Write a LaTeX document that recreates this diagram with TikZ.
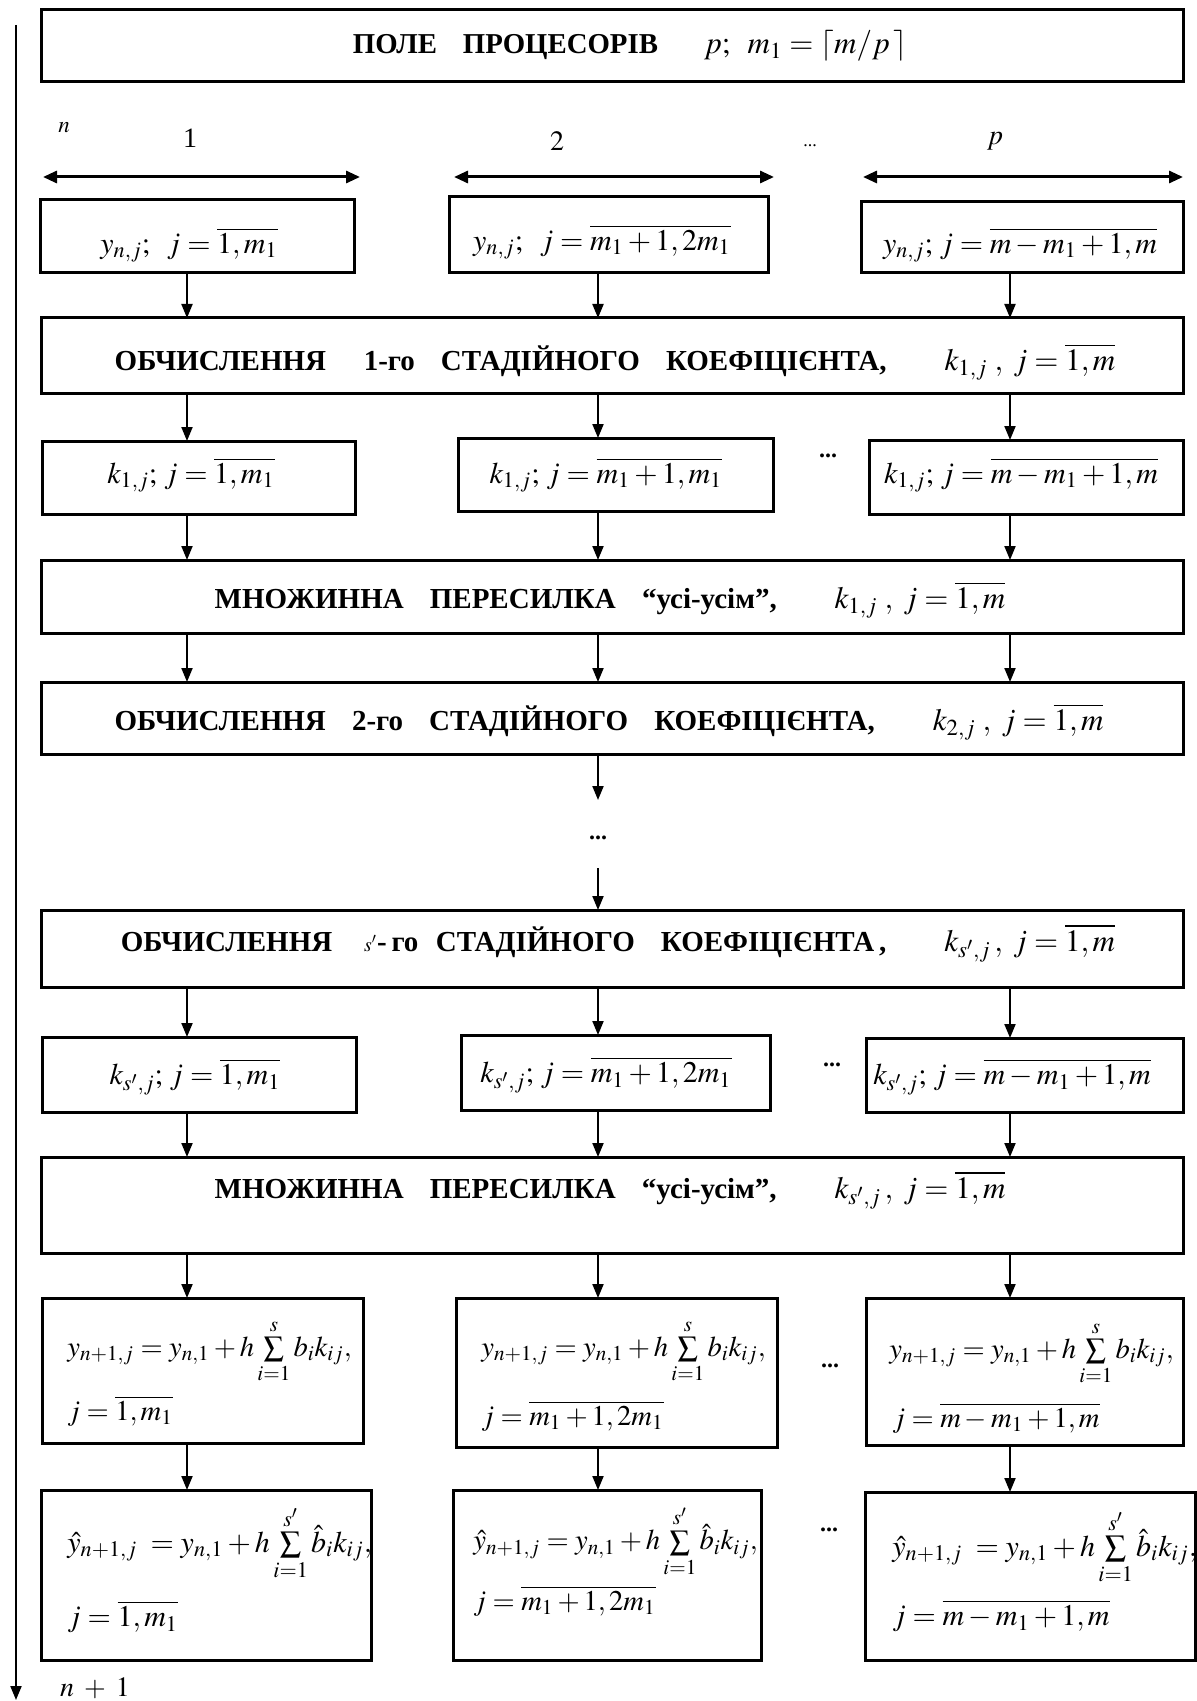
\documentclass[tikz,border=0pt]{standalone}
\usepackage{mathptmx}
\usepackage[no-math]{fontspec}
\setmainfont{Liberation Serif}
\usetikzlibrary{arrows.meta,fit}
\newcommand\mybox[5]{\node[bx, fit={(#2,#3) (#4,#5)}] (#1) {};}
\newcommand\hmath[1]{{\fontsize{15.5}{18}\selectfont$#1$}}
\begin{document}
\begin{tikzpicture}[x=0.5pt,y=-0.5pt,
  bx/.style={draw, line width=1.5pt, inner sep=0pt, outer sep=0pt},
  arr/.style={line width=1pt, -{Triangle[length=7pt,width=5.5pt]}},
  darr/.style={line width=1.5pt, {Triangle[length=7pt,width=6pt]}-{Triangle[length=7pt,width=6pt]}},
  hd/.style={inner sep=0pt, font=\fontsize{14.5}{17}\selectfont\bfseries},
  mt/.style={inner sep=0pt, font=\fontsize{15}{18}\selectfont},
  ml/.style={mt, anchor=west},
  nl/.style={inner sep=0pt, anchor=west, font=\fontsize{14.3}{17}\selectfont},
  lb/.style={inner sep=0pt, font=\fontsize{14}{16}\selectfont},
  dts/.style={inner sep=0pt, font=\fontsize{12}{14}\selectfont\bfseries}]
\useasboundingbox (0,0) rectangle (1197,1701);
\coordinate (c1) at (187,0);
\coordinate (c2) at (598,0);
\coordinate (c3) at (1010,0);
% left time axis
\coordinate (L0) at (16,25);
\coordinate (L1) at (16,1700);
\draw[arr] (L0) -- (L1);
\node[lb] (nlab) at (64,128) {\fontsize{11.5}{13}\selectfont$n$};
\node[lb] (n1lab) at (95,1688) {$n\;+\;1$};
% title
\mybox{T}{41}{10}{1183}{82}
\node[inner sep=0pt, font=\fontsize{14.4}{17}\selectfont] (Tt) at (630,46)
  {\textbf{ПОЛЕ\hspace{0.9em}ПРОЦЕСОРІВ}\hspace{1.6em}{\fontsize{15.5}{18}\selectfont$p;\;\; m_1=\lceil m/p\,\rceil$}};
% processor labels
\node[lb] (p1) at (190,138) {1};
\node[lb] (p2) at (557,141) {$2$};
\node[inner sep=0pt, font=\fontsize{9}{10}\selectfont] (pd) at (810,146) {...};
\node[lb] (pp) at (995,141) {$p$};
\coordinate (a1l) at (43,177); \coordinate (a1r) at (360,177);
\coordinate (a2l) at (454,177); \coordinate (a2r) at (774,177);
\coordinate (a3l) at (863,177); \coordinate (a3r) at (1183,177);
\draw[darr] (a1l) -- (a1r);
\draw[darr] (a2l) -- (a2r);
\draw[darr] (a3l) -- (a3r);
% row y_{n,j}
\mybox{Y1}{40}{200}{354}{273}
\mybox{Y2}{449}{197}{768}{273}
\mybox{Y3}{861}{202}{1183}{273}
\node[mt] (Y1t) at (189,245) {$y_{n,j};\;\; j=\overline{1,m_1}$};
\node[mt] (Y2t) at (602,242) {$y_{n,j};\;\; j=\overline{m_1+1,2m_1}$};
\node[mt] (Y3t) at (1020,245) {$y_{n,j};\, j=\overline{m-m_1+1,m}$};
% stage 1
\mybox{O1}{41}{318}{1183}{393}
\node[hd] (O1t) at (615,362) {ОБЧИСЛЕННЯ\hspace{1.3em}1-го\hspace{0.9em}СТАДІЙНОГО\hspace{0.9em}КОЕФІЦІЄНТА,\hspace{2em}\hmath{k_{1,j}\;,\; j=\overline{1,m}}};
\draw[arr] (Y1.south -| c1) -- (O1.north -| c1);
\draw[arr] (Y2.south -| c2) -- (O1.north -| c2);
\draw[arr] (Y3.south -| c3) -- (O1.north -| c3);
% row k_{1,j}
\mybox{K1}{42}{441}{355}{514}
\mybox{K2}{458}{438}{773}{511}
\mybox{K3}{869}{440}{1183}{514}
\node[mt] (K1t) at (191,475) {$k_{1,j};\, j=\overline{1,m_1}$};
\node[mt] (K2t) at (606,475) {$k_{1,j};\, j=\overline{m_1+1,m_1}$};
\node[mt] (K3t) at (1021,475) {$k_{1,j};\, j=\overline{m-m_1+1,m}$};
\node[dts] (Kd) at (828,456) {...};
\draw[arr] (O1.south -| c1) -- (K1.north -| c1);
\draw[arr] (O1.south -| c2) -- (K2.north -| c2);
\draw[arr] (O1.south -| c3) -- (K3.north -| c3);
% broadcast 1
\mybox{M1}{41}{560}{1183}{633}
\node[hd] (M1t) at (610,600) {МНОЖИННА\hspace{0.9em}ПЕРЕСИЛКА\hspace{0.9em}“усі-усім”,\hspace{2em}\hmath{k_{1,j}\;,\; j=\overline{1,m}}};
\draw[arr] (K1.south -| c1) -- (M1.north -| c1);
\draw[arr] (K2.south -| c2) -- (M1.north -| c2);
\draw[arr] (K3.south -| c3) -- (M1.north -| c3);
% stage 2
\mybox{O2}{41}{682}{1183}{754}
\node[hd] (O2t) at (609,722) {ОБЧИСЛЕННЯ\hspace{0.9em}2-го\hspace{0.9em}СТАДІЙНОГО\hspace{0.9em}КОЕФІЦІЄНТА,\hspace{2em}\hmath{k_{2,j}\;,\; j=\overline{1,m}}};
\draw[arr] (M1.south -| c1) -- (O2.north -| c1);
\draw[arr] (M1.south -| c2) -- (O2.north -| c2);
\draw[arr] (M1.south -| c3) -- (O2.north -| c3);
% ellipsis
\coordinate (e1) at (598,800);
\coordinate (e2) at (598,868);
\node[dts] (Ed) at (598,838) {...};
\draw[arr] (O2.south -| c2) -- (e1);
% stage s'
\mybox{Os}{41}{910}{1183}{987}
\draw[arr] (e2) -- (Os.north -| c2);
\node[hd] (Ost) at (618,943) {ОБЧИСЛЕННЯ\hspace{1.1em}{\mdseries\fontsize{10}{12}\selectfont$s'$}-\,го\hspace{0.6em}СТАДІЙНОГО\hspace{0.9em}КОЕФІЦІЄНТА\,,\hspace{2em}\hmath{k_{s',j}\,,\; j=\overline{1,m}}};
% row k_{s',j}
\mybox{S1}{42}{1037}{356}{1112}
\mybox{S2}{461}{1035}{770}{1110}
\mybox{S3}{866}{1038}{1183}{1112}
\node[mt] (S1t) at (195,1077) {$k_{s',j};\, j=\overline{1,m_1}$};
\node[mt] (S2t) at (606,1075) {$k_{s',j};\, j=\overline{m_1+1,2m_1}$};
\node[mt] (S3t) at (1012,1077) {$k_{s',j};\, j=\overline{m-m_1+1,m}$};
\node[dts] (Sd) at (832,1065) {...};
\draw[arr] (Os.south -| c1) -- (S1.north -| c1);
\draw[arr] (Os.south -| c2) -- (S2.north -| c2);
\draw[arr] (Os.south -| c3) -- (S3.north -| c3);
% broadcast s'
\mybox{M2}{41}{1157}{1183}{1253}
\node[hd] (M2t) at (610,1190) {МНОЖИННА\hspace{0.9em}ПЕРЕСИЛКА\hspace{0.9em}“усі-усім”,\hspace{2em}\hmath{k_{s',j}\,,\; j=\overline{1,m}}};
\draw[arr] (S1.south -| c1) -- (M2.north -| c1);
\draw[arr] (S2.south -| c2) -- (M2.north -| c2);
\draw[arr] (S3.south -| c3) -- (M2.north -| c3);
% y_{n+1}
\mybox{N1}{42}{1298}{363}{1443}
\mybox{N2}{456}{1298}{777}{1447}
\mybox{N3}{866}{1298}{1183}{1445}
\node[nl] (N1a) at (67,1351) {$y_{n+1,j}=y_{n,1}+h\sum\limits_{i=1}^{s}b_ik_{ij},$};
\node[nl] (N1b) at (67,1411) {$j=\overline{1,m_1}$};
\node[nl] (N2a) at (481,1351) {$y_{n+1,j}=y_{n,1}+h\sum\limits_{i=1}^{s}b_ik_{ij},$};
\node[nl] (N2b) at (481,1416) {$j=\overline{m_1+1,2m_1}$};
\node[nl] (N3a) at (889,1353) {$y_{n+1,j}=y_{n,1}+h\sum\limits_{i=1}^{s}b_ik_{ij},$};
\node[nl] (N3b) at (892,1418) {$j=\overline{m-m_1+1,m}$};
\node[dts] (Nd) at (830,1366) {...};
\draw[arr] (M2.south -| c1) -- (N1.north -| c1);
\draw[arr] (M2.south -| c2) -- (N2.north -| c2);
\draw[arr] (M2.south -| c3) -- (N3.north -| c3);
% y hat
\mybox{H1}{41}{1490}{371}{1660}
\mybox{H2}{453}{1490}{761}{1660}
\mybox{H3}{865}{1492}{1195}{1660}
\node[ml] (H1a) at (67,1543) {$\hat y_{n+1,j}\;=y_{n,1}+h\sum\limits_{i=1}^{s'}\hat b_ik_{ij},$};
\node[ml] (H1b) at (67,1617) {$j=\overline{1,m_1}$};
\node[nl] (H2a) at (473,1541) {$\hat y_{n+1,j}=y_{n,1}+h\sum\limits_{i=1}^{s'}\hat b_ik_{ij},$};
\node[nl] (H2b) at (473,1601) {$j=\overline{m_1+1,2m_1}$};
\node[ml] (H3a) at (892,1547) {$\hat y_{n+1,j}\;=y_{n,1}+h\sum\limits_{i=1}^{s'}\hat b_ik_{ij},$};
\node[ml] (H3b) at (892,1616) {$j=\overline{m-m_1+1,m}$};
\node[dts] (Hd) at (829,1530) {...};
\draw[arr] (N1.south -| c1) -- (H1.north -| c1);
\draw[arr] (N2.south -| c2) -- (H2.north -| c2);
\draw[arr] (N3.south -| c3) -- (H3.north -| c3);
\end{tikzpicture}
\end{document}
